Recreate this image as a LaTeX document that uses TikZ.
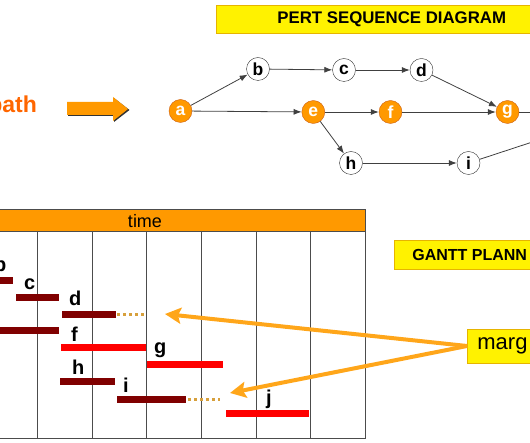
\documentclass[tikz,border=0pt]{standalone}
\usepackage{fontspec}
\setmainfont{Liberation Sans}
\usetikzlibrary{arrows.meta}

\definecolor{pertorange}{RGB}{255,153,0}
\definecolor{circleedge}{RGB}{205,95,20}
\definecolor{critorange}{RGB}{255,102,0}
\definecolor{darkbar}{RGB}{128,0,0}
\definecolor{slackdot}{RGB}{215,160,60}
\definecolor{marginarrow}{RGB}{255,166,26}
\definecolor{boxedge}{RGB}{230,180,0}

\tikzset{
  event/.style={circle, draw=black!80, fill=white, minimum size=23pt, inner sep=0pt, font=\fontsize{17.5}{17.5}\selectfont\bfseries},
  critevent/.style={event, draw=circleedge, fill=pertorange, text=white},
  link/.style={draw=black!75, line width=0.8pt, -{Latex[length=8pt,width=6pt]}},
  titlebox/.style={draw=boxedge, fill=yellow, line width=0.8pt, anchor=west},
  earlybar/.style={darkbar, line width=7pt},
  critbar/.style={red, line width=7pt},
  slack/.style={slackdot, line width=3pt, dash pattern=on 3pt off 3pt},
  barlabel/.style={anchor=base west, inner sep=0pt, font=\fontsize{20}{20}\selectfont\bfseries},
  pointer/.style={marginarrow, line width=4pt, -{Stealth[length=16pt,width=16pt,inset=3pt]}},
}

\begin{document}
\begin{tikzpicture}[x=1pt, y=-1pt]
    \useasboundingbox (0,0) rectangle (530,443);

    % PERT title
    \node[titlebox, minimum height=28pt, inner xsep=61pt, font=\fontsize{16.8}{17}\selectfont\bfseries] (pert) at (216,19) {PERT SEQUENCE DIAGRAM};

    % Critical path label and block arrow
    \node[anchor=base east, inner sep=0pt, text=critorange, font=\fontsize{23}{23}\selectfont\bfseries] (pathlabel) at (37,113) {path};
    \fill[black!80] (68,103) -- (114,103) -- (114,98) -- (129.5,110) -- (114,122) -- (114,116) -- (68,116) -- cycle;
    \fill[pertorange] (67,102) -- (113,102) -- (113,97) -- (128,109) -- (113,121) -- (113,115) -- (67,115) -- cycle;

    % PERT events
    \node[critevent] (a) at (180.5,111) {a};
    \node[event] (b) at (258,69) {b};
    \node[event] (c) at (344,70) {c};
    \node[event] (d) at (421.5,70) {d};
    \node[critevent] (e) at (313.3,112) {e};
    \node[critevent] (f) at (390.5,112) {f};
    \node[critevent] (g) at (507.5,112) {g};
    \node[event] (h) at (351,163) {h};
    \node[event] (i) at (468.5,163) {i};
    \coordinate (gout) at (575,112);
    \coordinate (iout) at (575,128);

    % PERT links
    \draw[link] (a) -- (b);
    \draw[link] (a) -- (e);
    \draw[link] (b) -- (c);
    \draw[link] (c) -- (d);
    \draw[link] (d) -- (g);
    \draw[link] (e) -- (f);
    \draw[link] (f) -- (g);
    \draw[link] (e) -- (h);
    \draw[link] (h) -- (i);
    \draw[link] (g) -- (gout);
    \draw[link] (i) -- (iout);

    % Gantt frame and time header
    \draw[black!70, line width=1pt, fill=pertorange] (-20,210) rectangle (365,232);
    \node[font=\fontsize{18}{18}\selectfont] (time) at (145,221) {time};
    \draw[black!70, line width=1pt] (-20,232) rectangle (365,438);
    \foreach \x in {37,92,146,201,256,310}
        \draw[black!70, line width=1pt] (\x,232) -- (\x,438);

    % Gantt bars
    \draw[earlybar] (-5,281) -- (13,281);
    \draw[earlybar] (16,298) -- (59,298);
    \draw[earlybar] (62,315) -- (116,315);
    \draw[slack] (117,315) -- (146,315);
    \draw[earlybar] (-5,331) -- (59,331);
    \draw[critbar] (61,348) -- (146,348);
    \draw[critbar] (147,365) -- (223,365);
    \draw[earlybar] (60,382) -- (115,382);
    \draw[earlybar] (117,399) -- (186,399);
    \draw[slack] (188,399) -- (220,399);
    \draw[critbar] (226,413) -- (309,413);

    % Gantt labels
    \node[barlabel] (lb) at (-6,272) {b};
    \node[barlabel] (lc) at (24,290) {c};
    \node[barlabel] (ld) at (69,306) {d};
    \node[barlabel] (lf) at (71,342) {f};
    \node[barlabel] (lg) at (154,354) {g};
    \node[barlabel] (lh) at (72,375) {h};
    \node[barlabel] (li) at (123,392) {i};
    \node[barlabel] (lj) at (266,404) {j};

    % Gantt title
    \node[titlebox, minimum height=29pt, inner xsep=18pt, font=\fontsize{16}{16}\selectfont\bfseries] (gantt) at (394,254.5) {GANTT PLANN};

    % Margin box and pointers
    \node[titlebox, minimum height=34pt, inner xsep=10pt, font=\fontsize{22}{22}\selectfont] (margin) at (467,346) {marg};
    \coordinate (dslack) at (165,314);
    \coordinate (islack) at (230,393);
    \draw[pointer] (margin.west) -- (dslack);
    \draw[pointer] (margin.west) -- (islack);
\end{tikzpicture}
\end{document}
